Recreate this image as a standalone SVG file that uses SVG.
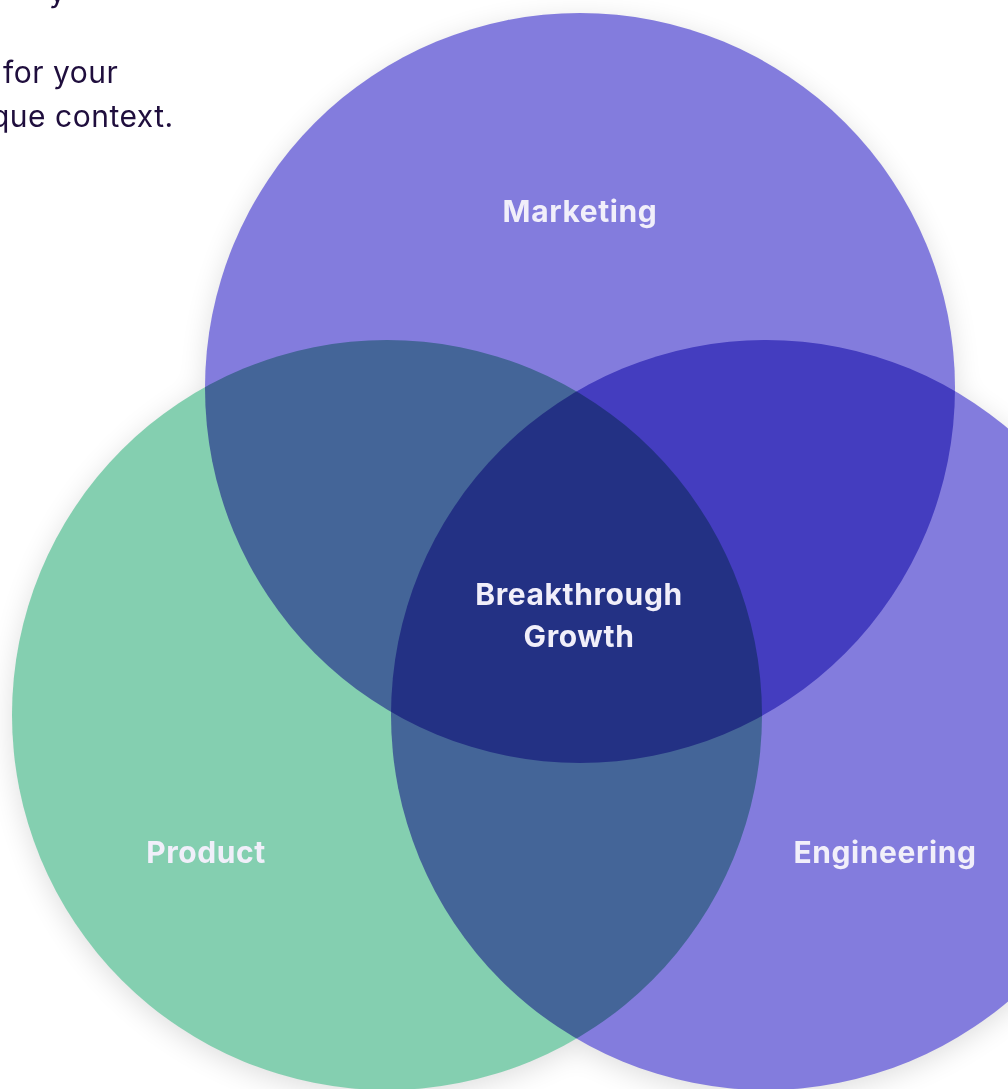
<svg xmlns="http://www.w3.org/2000/svg" width="1008" height="1089" viewBox="0 0 1008 1089">
  <defs>
    <style>
      .intro { font-family: Inter, "Noto Sans", "Liberation Sans", sans-serif; font-size: 30px; letter-spacing: 0.5px; fill: #1f0e3d; }
      .label { font-family: Inter, "Noto Sans", "Liberation Sans", sans-serif; font-size: 30px; font-weight: 700; letter-spacing: 0.6px; fill: #f1effa; text-anchor: middle; }
      .set { mix-blend-mode: multiply; }
    </style>
    <filter id="soft-shadow" x="-20%" y="-20%" width="140%" height="140%">
      <feGaussianBlur stdDeviation="14"/>
    </filter>
  </defs>
  <rect width="1008" height="1089" fill="#ffffff"/>

  <!-- intro copy, running off the left edge -->
  <g id="intro">
    <text class="intro" x="49" y="2">y</text>
    <text class="intro" x="3" y="83">for your</text>
    <text class="intro" x="-9" y="127">que context.</text>
  </g>

  <!-- shadow beneath the venn sets -->
  <g id="shadow" fill="#000000" opacity="0.13" filter="url(#soft-shadow)">
    <circle cx="580" cy="394" r="375"/>
    <circle cx="387" cy="721" r="375"/>
    <circle cx="766" cy="721" r="375"/>
  </g>

  <!-- venn sets, blended so overlaps darken -->
  <g id="sets" style="isolation:isolate">
    <g id="marketing"><circle class="set" cx="580" cy="388" r="375" fill="#837cdd"/></g>
    <g id="product"><circle class="set" cx="387" cy="715" r="375" fill="#84cfb0"/></g>
    <g id="engineering"><circle class="set" cx="766" cy="715" r="375" fill="#837cdd"/></g>
  </g>

  <g id="connectors"></g>

  <g id="labels">
    <text class="label" x="580" y="222">Marketing</text>
    <text class="label" x="579" y="605">Breakthrough</text>
    <text class="label" x="579" y="647">Growth</text>
    <text class="label" x="206" y="863">Product</text>
    <text class="label" x="885" y="863">Engineering</text>
  </g>
</svg>
